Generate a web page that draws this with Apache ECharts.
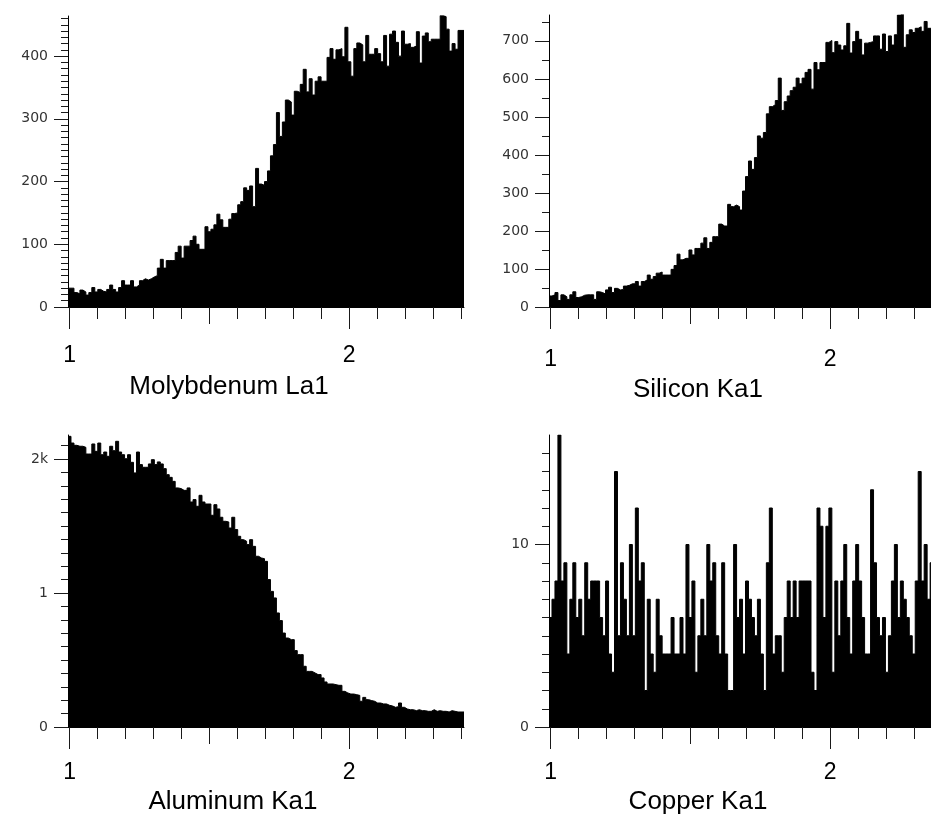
<!DOCTYPE html>
<html>
<head>
<meta charset="utf-8">
<script src="https://cdn.jsdelivr.net/npm/echarts@6/dist/echarts.min.js"></script>
<style>
  html, body { margin: 0; padding: 0; background: #fff; }
  #chart { width: 931px; height: 819px; }
</style>
</head>
<body>
<div id="chart"></div>
<script>
// spectrum bins (keV), left edge of the first bin and bin width
var binStart = 0.994
var binWidth = 0.01065

var panelNames = ["Molybdenum La1", "Silicon Ka1", "Aluminum Ka1", "Copper Ka1"]

// counts per bin
var molybdenum = [
  30, 30, 23, 21, 27, 24, 19, 23, 31, 24,
  28, 25, 24, 28, 35, 28, 24, 31, 42, 35,
  35, 42, 32, 35, 42, 45, 43, 45, 48, 50,
  62, 76, 62, 74, 74, 74, 87, 97, 78, 97,
  97, 106, 113, 100, 92, 92, 128, 120, 124, 131,
  148, 139, 127, 127, 140, 149, 150, 163, 168, 190,
  186, 193, 160, 221, 196, 194,
  200, 217, 241, 259, 310, 272, 295, 330, 327, 306,
  344, 342, 355, 379, 343, 364, 338, 360, 367, 360,
  360, 398, 412, 395, 410, 412, 399, 446, 391, 368,
  412, 421, 418, 391, 433, 403, 403, 412, 404, 391,
  433, 384, 435, 440, 422, 400, 440, 419, 420, 414,
  416, 439, 389, 432, 437, 423, 427, 427, 427, 465,
  463, 443, 408, 420, 411, 441, 441
]
var silicon = [
  29, 32, 38, 17, 32, 27, 20, 32, 40, 25,
  27, 31, 32, 32, 32, 20, 40, 38, 34, 45,
  52, 38, 49, 45, 46, 55, 57, 61, 61, 67,
  55, 67, 71, 84, 73, 80, 89, 92, 84, 84,
  84, 99, 109, 139, 124, 128, 128, 150, 137, 154,
  154, 168, 182, 154, 170, 185, 185, 218, 213, 213,
  270, 264, 268, 264, 255, 305, 343, 384, 362, 393,
  450, 444, 459, 508, 527, 532, 543, 602, 517, 540,
  555, 569, 578, 602, 587, 602, 617, 625, 573, 643,
  624, 643, 643, 696, 701, 669, 698, 689, 676, 687,
  746, 668, 698, 725, 704, 663, 694, 696, 698, 713,
  713, 678, 718, 672, 713, 689, 716, 768, 773, 683,
  716, 729, 722, 733, 737, 725, 751, 733, 733, 728,
  735, 720, 730
]
var aluminum = [
  2169, 2119, 2102, 2095, 2095, 2087, 2037, 2037, 2112, 2057,
  2119, 2032, 2052, 2020, 2095, 2062, 2132, 2052, 2032, 2002,
  2032, 1975, 1896, 2052, 1958, 1938, 1938, 1963, 1995, 1958,
  1978, 1963, 1928, 1883, 1863, 1833, 1784, 1779, 1766, 1766,
  1784, 1679, 1697, 1647, 1729, 1679, 1664, 1664, 1580, 1659,
  1627, 1565, 1535, 1530, 1485, 1565, 1473, 1423, 1398, 1386,
  1361, 1398, 1348, 1274, 1261, 1256, 1236, 1100, 1012, 963,
  851, 794, 701, 664, 652, 652, 570, 540, 540, 453,
  415, 415, 403, 391, 391, 366, 336, 321, 321, 316,
  311, 311, 266, 254, 246, 246, 241, 236, 192, 221,
  204, 197, 192, 179, 179, 172, 172, 162, 157, 147,
  152, 179, 147, 134, 129, 129, 122, 129, 122, 122,
  117, 117, 129, 117, 122, 117, 117, 112, 122, 117,
  112, 112, 112
]
var copper = [
  6, 7, 8, 16, 8, 9, 4, 7, 9, 6,
  7, 5, 9, 7, 8, 8, 8, 6, 5, 8,
  4, 3, 14, 5, 9, 7, 5, 10, 5, 12,
  8, 9, 2, 7, 4, 3, 7, 5, 4, 4,
  4, 6, 4, 4, 6, 4, 10, 6, 8, 3,
  5, 7, 5, 10, 8, 9, 5, 4, 9, 4,
  2, 2, 10, 6,
  7, 4, 8, 7, 6, 5, 7, 4, 2, 9,
  12, 4, 5, 5, 3, 6, 8, 6, 8, 6,
  8, 8, 8, 8, 3, 2, 12, 11, 6, 11,
  12, 3, 8, 5, 8, 10, 6, 4, 8, 10,
  8, 6, 4, 4, 13, 9, 6, 5, 6, 3,
  5, 8, 10, 6, 8, 7, 6, 5, 4, 8,
  14, 8, 10, 7, 9, 8, 6, 7, 5
]

// axes
var xLabelValues = [1, 2]
var xMidTicks = [1.5]
var xMinorTicks = [1.1, 1.2, 1.3, 1.4, 1.6, 1.7, 1.8, 1.9, 2.1, 2.2, 2.3, 2.4]

var yMax = [464, 768, 2179, 16]
var yMinorStep = [10, 50, 100, 1]
var yLabelValues = [
  [0, 100, 200, 300, 400],
  [0, 100, 200, 300, 400, 500, 600, 700],
  [0, 1000, 2000],
  [0, 10]
]
var yLabelText = [
  ["0", "100", "200", "300", "400"],
  ["0", "100", "200", "300", "400", "500", "600", "700"],
  ["0", "1", "2k"],
  ["0", "10"]
]

var panelBox = [
  { left: 68, top: 16, height: 291, titleX: 229, titleY: 387, labelMargin: 37 },
  { left: 549, top: 15, height: 292, titleX: 698, titleY: 390, labelMargin: 41 },
  { left: 68, top: 435, height: 292, titleX: 233, titleY: 802, labelMargin: 34 },
  { left: 549, top: 435, height: 292, titleX: 698, titleY: 802, labelMargin: 34 }
]

var allData = [molybdenum, silicon, aluminum, copper]
var xEnd = binStart + binWidth * 133

function stepPoints(values) {
  var pts = values.map(function (v, i) { return [binStart + i * binWidth, v] })
  pts.push([binStart + values.length * binWidth, values[values.length - 1]])
  return pts
}

var grids = [], xAxes = [], yAxes = [], series = [], texts = []
var tickColor = "#1a1a1a"

panelBox.forEach(function (p, g) {
  grids.push({ left: p.left, top: p.top, width: 396, height: p.height, outerBoundsMode: "none" })

  var minor = []
  for (var v = yMinorStep[g]; v < yMax[g]; v += yMinorStep[g]) {
    if (yLabelValues[g].indexOf(v) < 0) minor.push(v)
  }

  // x axis: line + 0.1 ticks, then 1.5 tick, then long ticks with labels
  xAxes.push({
    gridIndex: g, type: "value", position: "bottom", offset: 0, min: binStart, max: xEnd,
    splitLine: { show: false },
    axisLine: { show: true, onZero: false, lineStyle: { color: "#000", width: 1 } },
    axisTick: { show: true, customValues: xMinorTicks, length: 12, lineStyle: { color: tickColor } },
    axisLabel: { show: false }
  })
  xAxes.push({
    gridIndex: g, type: "value", position: "bottom", offset: 0, min: binStart, max: xEnd,
    splitLine: { show: false },
    axisLine: { show: false, onZero: false },
    axisTick: { show: true, customValues: xMidTicks, length: 17, lineStyle: { color: tickColor } },
    axisLabel: { show: false }
  })
  xAxes.push({
    gridIndex: g, type: "value", position: "bottom", offset: 0, min: binStart, max: xEnd,
    splitLine: { show: false },
    axisLine: { show: false, onZero: false },
    axisTick: { show: true, customValues: xLabelValues, length: 22, lineStyle: { color: tickColor } },
    axisLabel: {
      show: true, customValues: xLabelValues, margin: p.labelMargin,
      color: "#000", fontSize: 23, fontFamily: "Liberation Sans, Arial, sans-serif",
      formatter: function (val) { return String(Math.round(val)) }
    }
  })

  yAxes.push({
    gridIndex: g, type: "value", position: "left", offset: 0, min: 0, max: yMax[g],
    splitLine: { show: false },
    axisLine: { show: true, onZero: false, lineStyle: { color: "#000", width: 1 } },
    axisTick: { show: true, customValues: minor, length: 7, lineStyle: { color: tickColor } },
    axisLabel: { show: false }
  })
  yAxes.push({
    gridIndex: g, type: "value", position: "left", offset: 0, min: 0, max: yMax[g],
    splitLine: { show: false },
    axisLine: { show: false, onZero: false },
    axisTick: { show: true, customValues: yLabelValues[g], length: 14, lineStyle: { color: tickColor } },
    axisLabel: {
      show: true, customValues: yLabelValues[g], margin: 20,
      color: "#333", fontSize: 14, fontFamily: "DejaVu Sans, sans-serif",
      formatter: function (val) {
        var i = yLabelValues[g].indexOf(val)
        return i >= 0 ? yLabelText[g][i] : ""
      }
    }
  })

  series.push({
    name: panelNames[g],
    type: "line",
    xAxisIndex: g * 3,
    yAxisIndex: g * 2,
    step: "end",
    symbol: "none",
    data: stepPoints(allData[g]),
    lineStyle: { color: "#000", width: 1 },
    areaStyle: { color: "#000", opacity: 1 },
    clip: true,
    z: 1
  })

  texts.push({
    type: "text",
    x: p.titleX,
    y: p.titleY,
    style: {
      text: panelNames[g],
      fill: "#000",
      font: "26px 'Liberation Sans', Arial, sans-serif",
      textAlign: "center",
      textVerticalAlign: "middle"
    }
  })
})

var chart = echarts.init(document.getElementById("chart"))
chart.setOption({
  backgroundColor: "#fff",
  animation: false,
  grid: grids,
  xAxis: xAxes,
  yAxis: yAxes,
  series: series,
  graphic: texts
})
</script>
</body>
</html>
